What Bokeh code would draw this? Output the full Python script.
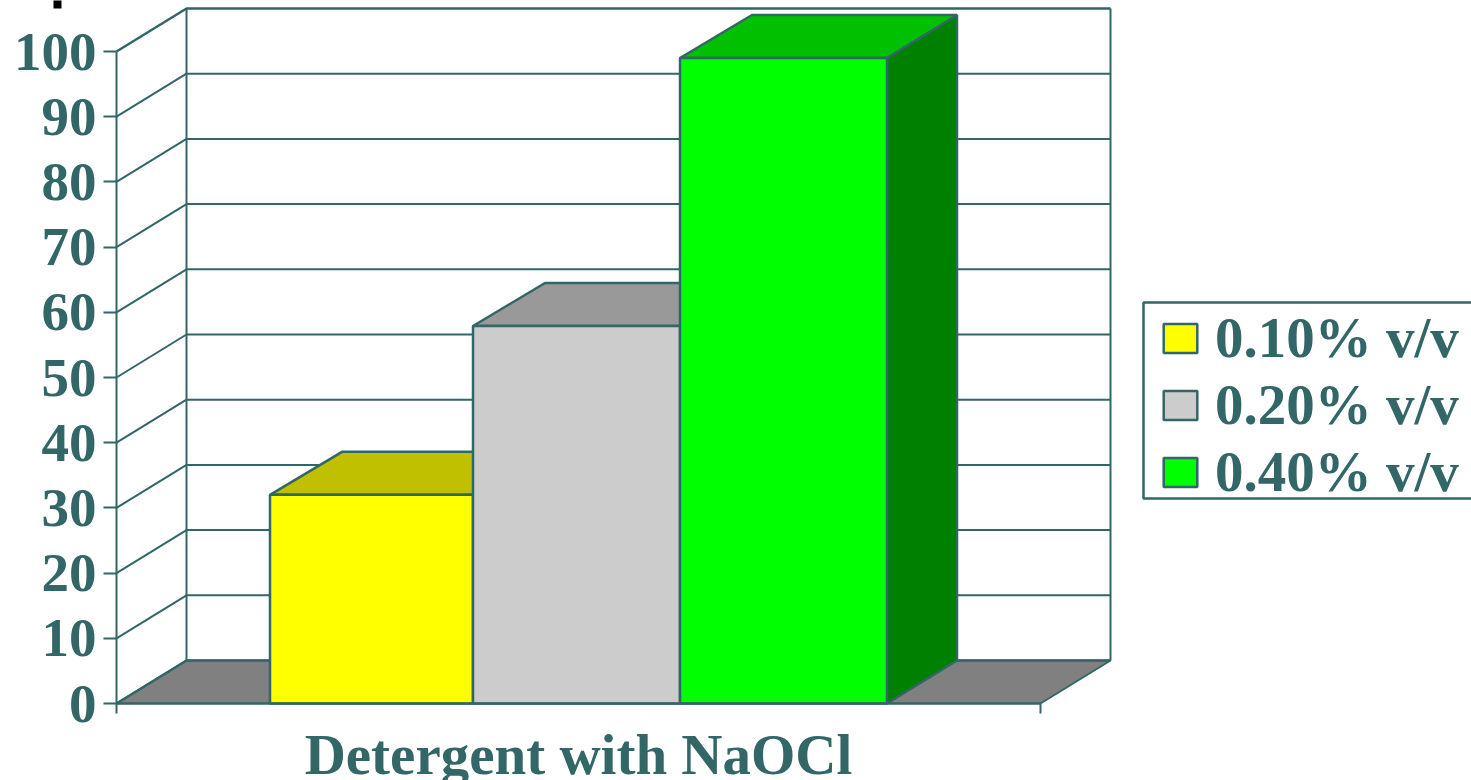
from bokeh.embed import file_html
from bokeh.resources import INLINE
from bokeh.plotting import figure
from bokeh.models import FixedTicker, Legend, LegendItem, Range1d

# Chart data
category = "Detergent with NaOCl"
series = ["0.10% v/v", "0.20% v/v", "0.40% v/v"]
values = [32.0, 57.9, 99.0]
y_ticks = [0, 10, 20, 30, 40, 50, 60, 70, 80, 90, 100]

# Colours of the three faces of each bar
front_colors = ["#ffff00", "#cccccc", "#00ff00"]
top_colors = ["#c0c000", "#999999", "#00c000"]
side_colors = ["#808000", "#666666", "#008000"]
INK = "#336666"
FONT = "Liberation Serif"

# Layout of the pseudo-3D box: x runs in pixels from the front axis, y in percent
PX_PER_UNIT = 6.52
LEFT_PX = 116
BASE_PX = 703
DEPTH_X = 70
DEPTH_Y = 43 / PX_PER_UNIT
BAR_TOP_SKEW = 2
FLOOR_WIDTH = 924
bar_edges = [153.5, 356.5, 563.5, 770.5]
CATEGORY_TICK = FLOOR_WIDTH / 2


def from_top(px):
    """Value that sits px pixels below the top of the plot."""
    return (BASE_PX - px) / PX_PER_UNIT


# The frame fills the page; both axes are pinned to the corner of the box
p = figure(width=1471, height=780, output_backend="svg", toolbar_location=None,
           x_range=Range1d(-LEFT_PX, 1471 - LEFT_PX),
           y_range=Range1d(from_top(780), from_top(0)),
           min_border_left=0, min_border_right=0, min_border_top=0, min_border_bottom=0,
           outline_line_color=None, background_fill_color="white", border_fill_color="white")
p.grid.visible = False

ya = p.yaxis[0]
ya.fixed_location = 0
ya.bounds = (0, 100)
ya.ticker = FixedTicker(ticks=y_ticks)
ya.axis_line_color = INK
ya.axis_line_width = 2
ya.major_tick_line_color = INK
ya.major_tick_line_width = 2
ya.major_tick_in = 0
ya.major_tick_out = 13
ya.minor_tick_line_color = None
ya.major_label_text_color = INK
ya.major_label_text_font = FONT
ya.major_label_text_font_style = "bold"
ya.major_label_text_font_size = "55px"
ya.major_label_standoff = 7

xa = p.xaxis[0]
xa.fixed_location = 0
xa.bounds = (0, FLOOR_WIDTH)
xa.ticker = FixedTicker(ticks=[CATEGORY_TICK], minor_ticks=[0, FLOOR_WIDTH])
xa.major_label_overrides = {CATEGORY_TICK: category}
xa.axis_line_color = INK
xa.axis_line_width = 2
xa.major_tick_line_color = None
xa.major_tick_in = 0
xa.major_tick_out = 0
xa.minor_tick_line_color = INK
xa.minor_tick_line_width = 2
xa.minor_tick_in = 0
xa.minor_tick_out = 10
xa.major_label_text_color = INK
xa.major_label_text_font = FONT
xa.major_label_text_font_style = "bold"
xa.major_label_text_font_size = "57px"
xa.major_label_standoff = 9

# Floor of the box
p.patch([0, DEPTH_X, FLOOR_WIDTH + DEPTH_X, FLOOR_WIDTH],
        [0, DEPTH_Y, DEPTH_Y, 0],
        fill_color="#808080", line_color=INK, line_width=2)

# Side wall and back wall rules at every tick
for t in y_ticks:
    width = 2.5 if t in (0, 100) else 2
    p.line([0, DEPTH_X, FLOOR_WIDTH + DEPTH_X],
           [t, t + DEPTH_Y, t + DEPTH_Y],
           line_color=INK, line_width=width)
for x in (DEPTH_X, FLOOR_WIDTH + DEPTH_X):
    p.line([x, x], [DEPTH_Y, 100 + DEPTH_Y], line_color=INK, line_width=2)

# Bars, drawn left to right so that each front face covers the previous side face
legend_items = []
for i, v in enumerate(values):
    x0, x1 = bar_edges[i], bar_edges[i + 1]
    p.patch([x1, x1 + DEPTH_X, x1 + DEPTH_X, x1],
            [0, DEPTH_Y, v + DEPTH_Y, v],
            fill_color=side_colors[i], line_color=INK, line_width=2.5)
    p.patch([x0, x0 + DEPTH_X + BAR_TOP_SKEW, x1 + DEPTH_X, x1],
            [v, v + DEPTH_Y, v + DEPTH_Y, v],
            fill_color=top_colors[i], line_color=INK, line_width=2.5)
    front = p.quad(left=x0, right=x1, bottom=0, top=v,
                   fill_color=front_colors[i], line_color=INK, line_width=2.5)
    legend_items.append(LegendItem(label=series[i], renderers=[front]))

# Frame around the legend; it runs off the right edge of the plot
p.quad(left=1143 - LEFT_PX, right=1600 - LEFT_PX, bottom=from_top(498), top=from_top(302),
       fill_color="white", line_color=INK, line_width=2.5)

legend = Legend(items=legend_items, location=(1159, 276), margin=0, padding=0,
                spacing=2, glyph_width=42, glyph_height=36, label_standoff=14,
                label_text_font=FONT, label_text_font_style="bold",
                label_text_font_size="57px", label_text_color=INK,
                label_text_baseline="middle", label_height=44,
                border_line_color=None, background_fill_alpha=0)
p.add_layout(legend)

# Short black stroke in the top left corner, above the tick labels
p.quad(left=53 - LEFT_PX, right=61 - LEFT_PX, bottom=from_top(8), top=from_top(-1),
       fill_color="black", line_color=None)

open("out.html", "w").write(file_html(p, INLINE))
